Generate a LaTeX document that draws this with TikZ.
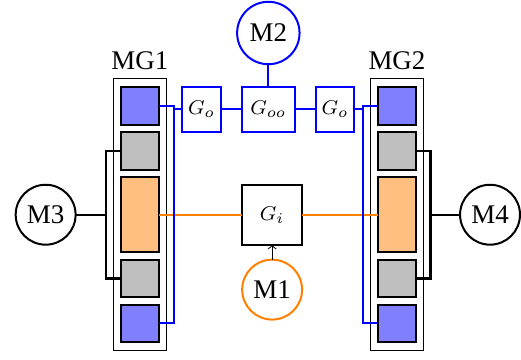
\documentclass[tikz,border=0pt]{standalone}
\usepackage{fontspec}
\setmainfont{Liberation Serif}
\usetikzlibrary{positioning, arrows}

\begin{document}
\begin{tikzpicture}
[
x=0.4pt, y=-0.4pt,
inner sep=0pt,
outer sep=0pt,
node distance = 3pt,
font=\fontsize{10.8}{13}\selectfont,
cell/.style={rectangle, draw=black, thick, minimum width=15pt, minimum height=15pt},
bluecell/.style={cell, fill=blue!50},
graycell/.style={cell, fill=black!25},
orangecell/.style={cell, fill=orange!50, minimum height=30pt},
group/.style={rectangle, draw=black, thin, minimum width=21pt, minimum height=108.8pt},
gate/.style={rectangle, draw=blue, thick, minimum height=18pt, font=\footnotesize},
gatei/.style={rectangle, draw=black, thick, minimum width=24pt, minimum height=24pt, font=\footnotesize},
mac/.style={circle, draw=black, thick, minimum size=24pt},
bluewire/.style={blue, line width=0.9pt},
orangewire/.style={orange, line width=0.9pt},
blackwire/.style={black, line width=0.9pt},
]
% left group
\node [group] (mg1) at (140,215) {};
\node [above = 3.5pt of mg1] {MG1};
\node [orangecell] (orange1) at (140,215) {};
\node [graycell, above = of orange1] (gray1a) {};
\node [bluecell, above = of gray1a] (blue1a) {};
\node [graycell, below = of orange1] (gray1b) {};
\node [bluecell, below = of gray1b] (blue1b) {};

% right group
\node [group] (mg2) at (397.5,215) {};
\node [above = 3.5pt of mg2] {MG2};
\node [orangecell] (orange2) at (397.5,215) {};
\node [graycell, above = of orange2] (gray2a) {};
\node [bluecell, above = of gray2a] (blue2a) {};
\node [graycell, below = of orange2] (gray2b) {};
\node [bluecell, below = of gray2b] (blue2b) {};

% gates
\node [gate, minimum width=21pt] (goo) at (268.7,109.3) {$G_{oo}$};
\node [gate, minimum width=15.4pt, left = 8.5pt of goo] (go1) {$G_o$};
\node [gate, minimum width=15.4pt, right = 8.5pt of goo] (go2) {$G_o$};
\node [gatei] (gi) at (272.5,215) {$G_i$};

% machines
\node [mac, draw=blue, minimum size=25pt, above = 9pt of goo] (m2) {M2};
\node [mac, draw=orange, below = 6pt of gi] (m1) {M1};
\node [mac] (m3) at (45.7,215) {M3};
\node [mac] (m4) at (490.7,215) {M4};

\coordinate (bus1) at (174,215);
\coordinate (bus2) at (363.3,215);
\coordinate (rail1) at (106.3,215);
\coordinate (rail2) at (431,215);

\draw [orangewire] (gi) -- (orange1);
\draw [orangewire] (gi) -- (orange2);

\draw [bluewire] (blue1a) -- (bus1 |- blue1a) -- (bus1 |- blue1b) -- (blue1b);
\draw [bluewire] (blue2a) -- (bus2 |- blue2a) -- (bus2 |- blue2b) -- (blue2b);
\draw [bluewire] (go1) -- (bus1 |- go1);
\draw [bluewire] (go2) -- (bus2 |- go2);
\draw [bluewire] (go1) -- (goo);
\draw [bluewire] (goo) -- (go2);
\draw [bluewire] (m2) -- (goo);

\draw [blackwire] (gray1a) -- (rail1 |- gray1a) -- (rail1 |- gray1b) -- (gray1b);
\draw [blackwire] (gray2a) -- (rail2 |- gray2a) -- (rail2 |- gray2b) -- (gray2b);
\draw [blackwire] (m3) -- (rail1);
\draw [blackwire] (m4) -- (rail2);

\draw [->,black] (m1) -- (gi);

\useasboundingbox (0,0) rectangle (521,360);
\end{tikzpicture}
\end{document}
